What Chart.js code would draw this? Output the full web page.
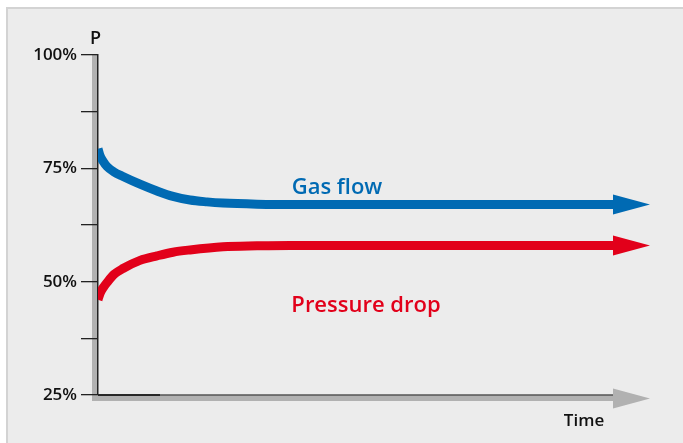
<!DOCTYPE html>
<html>
<head>
<meta charset="utf-8">
<script src="https://cdn.jsdelivr.net/npm/chart.js@4"></script>
<style>
    html, body { margin: 0; padding: 0; background: #fff; }
    #wrap { position: relative; width: 683px; height: 443px; overflow: hidden; }
    #panel {
        position: absolute; left: 6px; top: 7px; width: 700px; height: 460px;
        background: #ececec; border: 2px solid #d3d3d3;
    }
    #chart { position: absolute; left: 0; top: 0; }
</style>
</head>
<body>
<div id="wrap">
    <div id="panel"></div>
    <canvas id="chart" width="683" height="443"></canvas>
</div>
<script>
// time positions (arbitrary units, 0 = start of test)
const gasTime = [0, 2, 5, 9, 16, 25, 42, 59, 75, 92, 109, 125, 159, 192, 515];
const gasFlow = [79.3, 77.8, 76.6, 75.4, 74.2, 73.2, 71.5, 70.0, 68.8, 68.0, 67.6, 67.35, 67.1, 67.0, 67.0];

const dropTime = [0, 2, 5, 9, 16, 25, 42, 59, 75, 92, 125, 159, 192, 515];
const pressureDrop = [46.0, 47.4, 48.6, 49.8, 51.6, 52.9, 54.7, 55.7, 56.5, 57.0, 57.7, 57.9, 58.0, 58.0];

const yTicks = [25, 50, 75, 100];
const seriesNames = ["Gas flow", "Pressure drop"];

const BLUE = "#006ab3";
const RED = "#e2001a";
const GREY = "#b1b1b1";
const FONT = "'Open Sans', 'Noto Sans', sans-serif";

function toPoints(xs, ys) {
    return xs.map((x, i) => ({ x: x, y: ys[i] }));
}

function arrowHead(ctx, x, y, len, half, color) {
    ctx.fillStyle = color;
    ctx.beginPath();
    ctx.moveTo(x, y - half);
    ctx.lineTo(x + len, y);
    ctx.lineTo(x, y + half);
    ctx.closePath();
    ctx.fill();
}

const decor = {
    id: "decor",
    beforeDraw(chart) {
        const { ctx, chartArea: a } = chart;
        const last = chart.getDatasetMeta(0).data;
        const xEnd = last[last.length - 1].x;
        ctx.save();
        ctx.fillStyle = GREY;
        ctx.fillRect(a.left - 6, a.top, 6, a.bottom - a.top + 6);
        ctx.fillRect(a.left - 6, a.bottom, xEnd - a.left + 6, 6);
        arrowHead(ctx, xEnd, a.bottom + 3.5, 37, 10, GREY);
        ctx.restore();
    },
    afterDatasetsDraw(chart) {
        const { ctx, chartArea: a, scales: { x, y } } = chart;
        ctx.save();

        // x axis line
        const meta0 = chart.getDatasetMeta(0).data;
        const xEnd = meta0[meta0.length - 1].x;
        ctx.lineWidth = 1.5;
        ctx.strokeStyle = "#555";
        ctx.beginPath();
        ctx.moveTo(a.left, a.bottom);
        ctx.lineTo(xEnd, a.bottom);
        ctx.stroke();
        ctx.strokeStyle = "#111";
        ctx.beginPath();
        ctx.moveTo(a.left, a.bottom);
        ctx.lineTo(a.left + 62, a.bottom);
        ctx.stroke();

        // arrow heads at the end of each series
        chart.data.datasets.forEach((ds, i) => {
            const pts = chart.getDatasetMeta(i).data;
            const p = pts[pts.length - 1];
            arrowHead(ctx, p.x, p.y, 37, 10, ds.borderColor);
        });

        // axis names
        ctx.fillStyle = "#111";
        ctx.font = "600 18px " + FONT;
        ctx.textAlign = "center";
        ctx.textBaseline = "alphabetic";
        ctx.fillText("P", a.left - 2.5, a.top - 11);
        ctx.font = "600 17px " + FONT;
        ctx.fillText("Time", 584, a.bottom + 31);

        // series labels
        ctx.font = "600 22px " + FONT;
        ctx.fillStyle = BLUE;
        ctx.fillText(seriesNames[0], x.getPixelForValue(239), y.getPixelForValue(69.4));
        ctx.fillStyle = RED;
        ctx.fillText(seriesNames[1], x.getPixelForValue(268), y.getPixelForValue(43.4));

        ctx.restore();
    }
};

new Chart(document.getElementById("chart"), {
    type: "line",
    data: {
        datasets: [
            {
                label: seriesNames[0],
                data: toPoints(gasTime, gasFlow),
                borderColor: BLUE,
                borderWidth: 9,
                pointRadius: 0,
                cubicInterpolationMode: "monotone",
                borderCapStyle: "butt",
                clip: 0
            },
            {
                label: seriesNames[1],
                data: toPoints(dropTime, pressureDrop),
                borderColor: RED,
                borderWidth: 9,
                pointRadius: 0,
                cubicInterpolationMode: "monotone",
                borderCapStyle: "butt",
                clip: 0
            }
        ]
    },
    options: {
        responsive: false,
        animation: false,
        layout: { padding: { top: 55, right: 33, bottom: 48, left: 0 } },
        plugins: {
            legend: { display: false },
            tooltip: { enabled: false }
        },
        scales: {
            x: {
                type: "linear",
                min: 0,
                max: 552,
                display: false
            },
            y: {
                min: 25,
                max: 100,
                afterFit: s => { s.width = 98; },
                afterBuildTicks: s => {
                    s.ticks = [25, 37.5, 50, 62.5, 75, 87.5, 100].map(v => ({ value: v }));
                },
                ticks: {
                    autoSkip: false,
                    padding: 4,
                    color: "#111",
                    font: { family: FONT, size: 17, weight: "600" },
                    callback: v => yTicks.includes(v) ? v + "%" : ""
                },
                grid: {
                    drawOnChartArea: false,
                    drawTicks: true,
                    tickLength: 17,
                    color: "#222",
                    lineWidth: 1.3
                },
                border: { display: true, color: "#222", width: 1.5 }
            }
        }
    },
    plugins: [decor]
});
</script>
</body>
</html>
